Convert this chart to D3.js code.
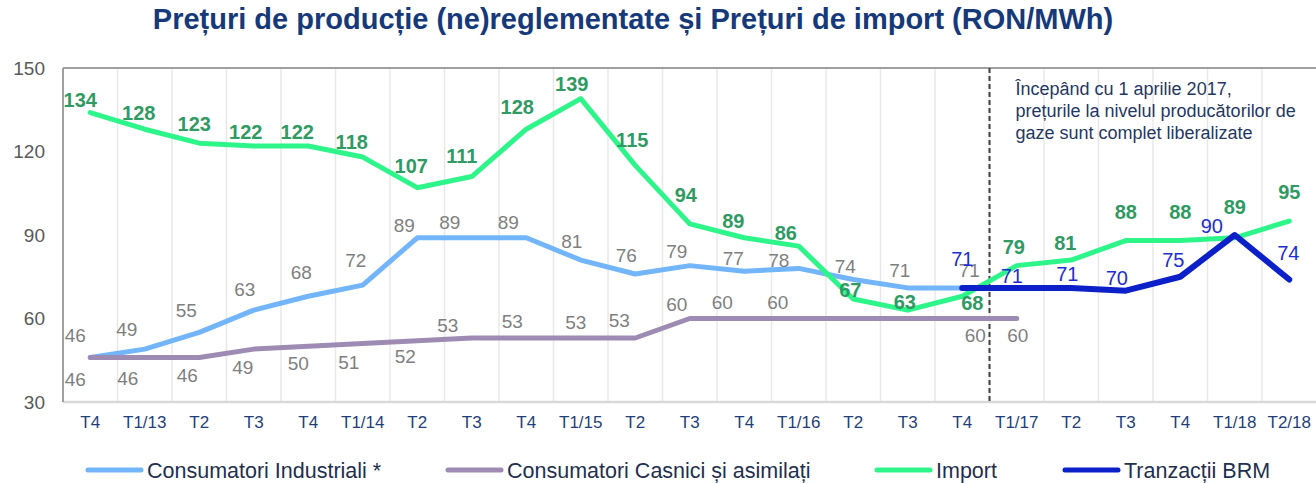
<!DOCTYPE html>
<html>
<head>
<meta charset="utf-8">
<script src="https://cdn.jsdelivr.net/npm/d3@7"></script>
<style>
  body { margin: 0; background: #fff; }
  svg { display: block; font-family: "Liberation Sans", Arial, sans-serif; }
</style>
</head>
<body>
<div id="chart"></div>
<script>
// chart data
var categories = ['T4', 'T1/13', 'T2', 'T3', 'T4', 'T1/14', 'T2', 'T3', 'T4', 'T1/15', 'T2', 'T3',
                  'T4', 'T1/16', 'T2', 'T3', 'T4', 'T1/17', 'T2', 'T3', 'T4', 'T1/18', 'T2/18'];
var industrial = [46, 49, 55, 63, 68, 72, 89, 89, 89, 81, 76, 79, 77, 78, 74, 71, 71,
                  null, null, null, null, null, null];
var casnici = [46, 46, 46, 49, 50, 51, 52, 53, 53, 53, 53, 60, 60, 60, 60, 60, 60, 60,
               null, null, null, null, null];
var importPrices = [134, 128, 123, 122, 122, 118, 107, 111, 128, 139, 115, 94, 89, 86, 67, 63, 68,
                    79, 81, 88, 88, 89, 95];
var brm = [null, null, null, null, null, null, null, null, null, null, null, null, null, null, null, null,
           71, 71, 71, 70, 75, 90, 74];
var yTicks = [30, 60, 90, 120, 150];
var seriesNames = ['Consumatori Industriali *', 'Consumatori Casnici și asimilați', 'Import', 'Tranzacții BRM'];

// label nudges (dx, dy of label centre from the point)
var importNudge = [[-10,-13],[-6,-16],[-5,-19],[-8,-14],[-11,-14],[-11,-15],[-6,-22],[-10,-21],[-9,-22],
  [-9,-15],[-3,-25],[-4,-29],[-11,-17],[-13,-13],[-3,-9],[-3,-8],[10,7],[-3,-19],[-6,-17],[0,-29],
  [0,-29],[0,-31],[0,-29]];
var industrialNudge = [[-15,-22],[-18,-20],[-13,-22],[-9,-21],[-7,-24],[-7,-25],[-13,-12],[-22,-15],
  [-18,-15],[-9,-19],[-9,-19],[-13,-14],[-11,-13],[-20,-8],[-8,-13],[-8,-18],[7,-18]];
var casniciNudge = [[-15,22],[-17,21],[-12,18],[-11,18],[-10,17],[-14,19],[-12,16],[-24,-13],[-14,-17],
  [-5,-16],[-16,-18],[-13,-14],[-22,-16],[-21,-16],null,null,[13,17],[1,17]];
var brmNudge = {16: [0,-29], 17: [-5,-12], 18: [-4,-14], 19: [-9,-13], 20: [-7,-17], 21: [-23,-9], 22: [-1,-27]};

var W = 1316, H = 483;
var margin = {top: 68, right: 0, bottom: 81, left: 63};
var width = 1253.5, height = H - margin.top - margin.bottom;

var svg = d3.select('#chart').append('svg')
    .attr('width', W)
    .attr('height', H);

// title
svg.append('text')
    .attr('x', 633)
    .attr('y', 29)
    .attr('text-anchor', 'middle')
    .style('font-size', '29px')
    .style('font-weight', 'bold')
    .style('fill', '#16397a')
    .text('Prețuri de producție (ne)reglementate și Prețuri de import (RON/MWh)');

var g = svg.append('g')
    .attr('transform', 'translate(' + margin.left + ',' + margin.top + ')');

var x = d3.scaleBand()
    .domain(d3.range(categories.length))
    .range([0, width]);
var y = d3.scaleLinear()
    .domain([30, 150])
    .range([height, 0]);
var cx = function(i) { return x(i) + x.bandwidth() / 2; };

// vertical gridlines between categories
g.selectAll('.grid')
    .data(d3.range(1, categories.length))
    .enter().append('line')
      .attr('x1', function(i) { return x(i); })
      .attr('x2', function(i) { return x(i); })
      .attr('y1', 0)
      .attr('y2', height)
      .attr('stroke', '#e8e8e8')
      .attr('stroke-width', 1.5);

// frame
g.append('line').attr('x1', 0).attr('x2', W).attr('y1', 0).attr('y2', 0)
    .attr('stroke', '#a0a0a0').attr('stroke-width', 2);
g.append('line').attr('x1', 0).attr('x2', W).attr('y1', height).attr('y2', height)
    .attr('stroke', '#d9d9d9').attr('stroke-width', 2.5);
g.append('line').attr('x1', 0).attr('x2', 0).attr('y1', 0).attr('y2', height)
    .attr('stroke', '#a0a0a0').attr('stroke-width', 2);

// y axis
var yAxis = g.append('g')
    .call(d3.axisLeft(y).tickValues(yTicks).tickSize(0).tickPadding(18));
yAxis.select('.domain').remove();
yAxis.selectAll('text')
    .style('font-size', '19px')
    .style('fill', '#595959')
    .style('font-family', '"Liberation Sans", Arial, sans-serif');

// x axis
var xAxis = g.append('g')
    .attr('transform', 'translate(0,' + height + ')')
    .call(d3.axisBottom(x).tickFormat(function(i) { return categories[i]; }).tickSize(0).tickPadding(14));
xAxis.select('.domain').remove();
xAxis.selectAll('text')
    .style('font-size', '17px')
    .style('fill', '#1f3f7b')
    .style('font-family', '"Liberation Sans", Arial, sans-serif');

// liberalisation marker
g.append('line')
    .attr('x1', x(17)).attr('x2', x(17))
    .attr('y1', 0).attr('y2', height)
    .attr('stroke', '#404040')
    .attr('stroke-width', 2)
    .attr('stroke-dasharray', '5,3');

var note = ['Începând cu 1 aprilie 2017,', 'prețurile la nivelul producătorilor de', 'gaze sunt complet liberalizate'];
g.append('text')
    .attr('x', x(17) + 26)
    .attr('y', 27)
    .style('font-size', '18px')
    .style('fill', '#1f3864')
  .selectAll('tspan')
    .data(note)
    .enter().append('tspan')
      .attr('x', x(17) + 26)
      .attr('dy', function(d, i) { return i ? 22 : 0; })
      .text(function(d) { return d; });

var series = [
  {values: industrial, color: '#72b5fb', width: 5, label: '#7f7f7f', size: 19, weight: 'normal', nudge: industrialNudge},
  {values: casnici, color: '#9d8bb3', width: 5, label: '#7f7f7f', size: 19, weight: 'normal', nudge: casniciNudge},
  {values: importPrices, color: '#2ef58a', width: 5, label: '#2f9a62', size: 20, weight: 'bold', nudge: importNudge},
  {values: brm, color: '#0b20c9', width: 6, label: '#1d2ed3', size: 20, weight: 'normal', nudge: brmNudge}
];

var line = d3.line()
    .defined(function(d) { return d != null; })
    .x(function(d, i) { return cx(i); })
    .y(function(d) { return y(d); });

series.forEach(function(s) {
  g.append('path')
      .datum(s.values)
      .attr('d', line)
      .attr('fill', 'none')
      .attr('stroke', s.color)
      .attr('stroke-width', s.width)
      .attr('stroke-linejoin', 'round')
      .attr('stroke-linecap', 'round');
});

// data labels, drawn after the lines
series.forEach(function(s) {
  var pts = s.values.map(function(v, i) { return {v: v, i: i}; })
      .filter(function(p) { return p.v != null && s.nudge[p.i]; });
  g.selectAll(null)
      .data(pts)
      .enter().append('text')
        .attr('x', function(p) { return cx(p.i) + s.nudge[p.i][0]; })
        .attr('y', function(p) { return y(p.v) + s.nudge[p.i][1]; })
        .attr('dy', '0.35em')
        .attr('text-anchor', 'middle')
        .style('font-size', s.size + 'px')
        .style('font-weight', s.weight)
        .style('fill', s.label)
        .text(function(p) { return p.v; });
});

// legend
var legendX = [88, 448, 877, 1065];
var legend = svg.append('g');
series.forEach(function(s, k) {
  legend.append('line')
      .attr('x1', legendX[k]).attr('x2', legendX[k] + 53)
      .attr('y1', 470).attr('y2', 470)
      .attr('stroke', s.color)
      .attr('stroke-width', 5)
      .attr('stroke-linecap', 'round');
  legend.append('text')
      .attr('x', legendX[k] + 59)
      .attr('y', 470)
      .attr('dy', '0.35em')
      .style('font-size', '21.5px')
      .style('fill', '#1f2f50')
      .text(seriesNames[k]);
});
</script>
</body>
</html>
